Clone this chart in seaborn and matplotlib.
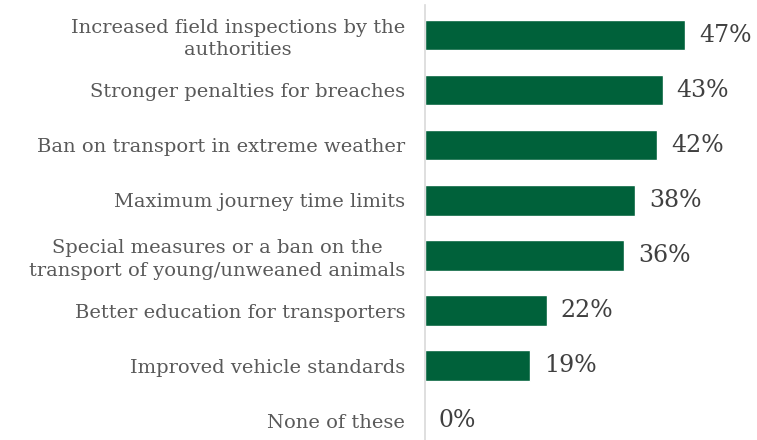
import matplotlib
matplotlib.use("Agg")
import matplotlib.pyplot as plt
import seaborn as sns
import pandas as pd

# Survey answers and shares (%)
measures = [
    "Increased field inspections by the\nauthorities",
    "Stronger penalties for breaches",
    "Ban on transport in extreme weather",
    "Maximum journey time limits",
    "Special measures or a ban on the\ntransport of young/unweaned animals",
    "Better education for transporters",
    "Improved vehicle standards",
    "None of these",
]
shares = [47, 43, 42, 38, 36, 22, 19, 0]

df = pd.DataFrame({"measure": measures, "share": shares})

sns.set_style("white")
plt.rcParams["font.family"] = ["DejaVu Serif"]

fig = plt.figure(figsize=(7.57, 4.40), dpi=100)
ax = fig.add_axes([0.561, 0.0, 0.439, 0.989])

sns.barplot(data=df, x="share", y="measure", color="#00613a", saturation=1,
            width=0.55, ax=ax)

for i, v in enumerate(shares):
    ax.annotate(f"{v}%", xy=(v, i), xytext=(10, 0), textcoords="offset points",
                ha="left", va="center", fontsize=17, color="#404040")

ax.set_xlim(0, 60)
ax.set_ylim(7.35, -0.55)
ax.set_xlabel("")
ax.set_ylabel("")
ax.set_xticks([])
ax.tick_params(axis="y", length=0, pad=14, labelsize=14, labelcolor="#595959")
for lbl in ax.get_yticklabels():
    lbl.set_multialignment("center")
    lbl.set_linespacing(1.3)
for s in ["top", "right", "bottom"]:
    ax.spines[s].set_visible(False)
ax.spines["left"].set_color("#d9d9d9")
ax.spines["left"].set_linewidth(1.2)

fig.savefig("out.png", dpi=100)
